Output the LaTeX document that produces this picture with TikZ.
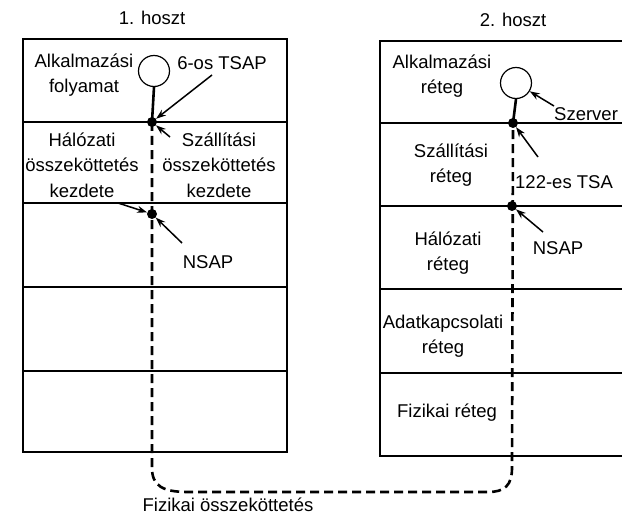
\documentclass[tikz,border=0pt]{standalone}
\usepackage{fontspec}
\setmainfont{Liberation Sans}
\usetikzlibrary{arrows.meta}
\begin{document}
\begin{tikzpicture}[x=1pt,y=-1pt,
  lbl/.style={inner sep=0pt,align=center,font=\fontsize{18.5}{25.5}\selectfont},
  layer/.style={line width=1.5pt},
  proc/.style={circle,draw,line width=1.2pt,minimum size=31pt,inner sep=0pt},
  sap/.style={circle,fill,inner sep=0pt,minimum size=10pt},
  ptr/.style={line width=1.5pt,-{Stealth[length=10pt,width=7pt]}},
  link/.style={line width=2.6pt,dash pattern=on 9pt off 5pt},
  stem/.style={line width=2.6pt}]
\useasboundingbox (0,0) rectangle (622,519);

% host 1 stack
\draw[layer] (23,39) rectangle (287,452);
\foreach \y in {122,203,287,371} \draw[layer] (23,\y) -- (287,\y);
% host 2 stack (runs past the right margin)
\draw[layer] (622,41) -- (380,41) -- (380,456) -- (622,456);
\foreach \y in {123,206,289,373} \draw[layer] (380,\y) -- (622,\y);

% titles
\node[lbl] (h1) at (152,18) {1. hoszt};
\node[lbl] (h2) at (513,20) {2. hoszt};

% host 1 labels
\node[lbl] (app1) at (84,75) {Alkalmazási\\folyamat};
\node[lbl] (tsap6) at (222,63) {6-os TSAP};
\node[lbl] (net1) at (82,165) {Hálózati\\összeköttetés\\kezdete};
\node[lbl] (tr1) at (219,165) {Szállítási\\összeköttetés\\kezdete};
\node[lbl] (nsap1) at (208,262) {NSAP};

% host 2 labels
\node[lbl] (app2) at (442,76) {Alkalmazási\\réteg};
\node[lbl,anchor=base west] (srv) at (554,121) {Szerver};
\node[lbl] (tr2) at (451,165) {Szállítási\\réteg};
\node[lbl,anchor=west] (tsap122) at (515,182) {122-es TSA};
\node[lbl] (net2) at (448,253) {Hálózati\\réteg};
\node[lbl] (nsap2) at (558,248) {NSAP};
\node[lbl] (dl2) at (443,336) {Adatkapcsolati\\réteg};
\node[lbl] (ph2) at (447,413) {Fizikai réteg};

\node[lbl] (phys) at (228,505) {Fizikai összeköttetés};

% processes and access points
\node[proc] (p1) at (154,71) {};
\node[proc] (p2) at (516,83) {};
\node[sap] (t1) at (152,122) {};
\node[sap] (n1) at (152,214) {};
\node[sap] (t2) at (513,123) {};
\node[sap] (n2) at (512,206) {};

\draw[stem] (p1.south) -- (t1.center);
\draw[stem] (p2.south) -- (t2.center);

% physical connection
\coordinate (c1) at (152,468);
\coordinate (c2) at (512,468);
\draw[link] (t1.center) -- (c1) .. controls (152,486) and (163,492) .. (188,492)
  -- (488,492) .. controls (505,492) and (512,485) .. (c2) -- (t2.center);

% pointers
\coordinate (a1) at (212,75);
\coordinate (a2) at (170,137);
\coordinate (a3) at (118,203);
\coordinate (a4) at (182,243);
\coordinate (a5) at (554,106);
\coordinate (a6) at (538,157);
\coordinate (a7) at (543,232);
\draw[ptr] (a1) -- (t1);
\draw[ptr] (a2) -- (t1);
\draw[ptr] (a3) -- (n1);
\draw[ptr] (a4) -- (n1);
\draw[ptr] (a5) -- (p2);
\draw[ptr] (a6) -- (t2);
\draw[ptr] (a7) -- (n2);
\end{tikzpicture}
\end{document}
